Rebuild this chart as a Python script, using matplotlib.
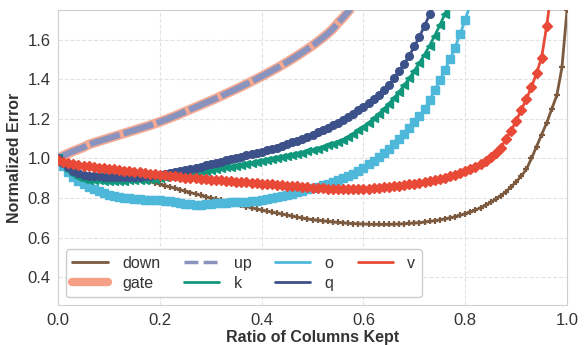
import matplotlib
matplotlib.use("Agg")
import matplotlib.pyplot as plt
from matplotlib.lines import Line2D
import numpy as np
import seaborn as sns

# ratio of columns kept, 0.00 .. 1.00 in steps of 0.01
ratio = np.round(np.arange(101) / 100, 2)

down = [1.000, 0.990, 0.980, 0.972, 0.965, 0.958, 0.952, 0.946, 0.940, 0.935,
        0.930, 0.925, 0.920, 0.914, 0.908, 0.902, 0.896, 0.890, 0.884, 0.877,
        0.870, 0.863, 0.856, 0.849, 0.842, 0.835, 0.828, 0.821, 0.814, 0.807,
        0.800, 0.794, 0.788, 0.781, 0.775, 0.769, 0.763, 0.757, 0.751, 0.745,
        0.739, 0.734, 0.729, 0.724, 0.719, 0.714, 0.709, 0.704, 0.699, 0.695,
        0.691, 0.688, 0.685, 0.682, 0.679, 0.677, 0.675, 0.673, 0.671, 0.670,
        0.669, 0.668, 0.667, 0.667, 0.667, 0.667, 0.668, 0.669, 0.670, 0.672,
        0.674, 0.676, 0.679, 0.682, 0.686, 0.690, 0.695, 0.700, 0.706, 0.713,
        0.721, 0.730, 0.740, 0.751, 0.764, 0.779, 0.795, 0.813, 0.833, 0.856,
        0.882, 0.911, 0.945, 1.000, 1.060, 1.120, 1.180, 1.250, 1.320, 1.460,
        1.750]

gate = [1.000, 1.014, 1.026, 1.037, 1.047, 1.057, 1.070, 1.079, 1.087, 1.095,
        1.103, 1.111, 1.119, 1.127, 1.135, 1.143, 1.151, 1.159, 1.167, 1.176,
        1.185, 1.195, 1.205, 1.215, 1.226, 1.237, 1.248, 1.259, 1.270, 1.281,
        1.292, 1.303, 1.315, 1.327, 1.339, 1.351, 1.363, 1.376, 1.389, 1.402,
        1.415, 1.429, 1.443, 1.457, 1.472, 1.487, 1.503, 1.519, 1.536, 1.553,
        1.571, 1.590, 1.610, 1.631, 1.655, 1.685, 1.712, 1.742, 1.775, 1.810,
        1.850]
up = gate

k = [1.000, 0.965, 0.940, 0.920, 0.906, 0.898, 0.893, 0.890, 0.889, 0.888,
     0.888, 0.888, 0.888, 0.888, 0.889, 0.890, 0.891, 0.893, 0.895, 0.898,
     0.901, 0.905, 0.909, 0.914, 0.919, 0.923, 0.927, 0.931, 0.935, 0.939,
     0.943, 0.947, 0.951, 0.955, 0.959, 0.963, 0.967, 0.971, 0.976, 0.981,
     0.986, 0.991, 0.996, 1.001, 1.006, 1.011, 1.017, 1.023, 1.029, 1.036,
     1.043, 1.050, 1.058, 1.066, 1.075, 1.085, 1.095, 1.106, 1.125, 1.142,
     1.160, 1.180, 1.202, 1.225, 1.250, 1.277, 1.306, 1.337, 1.370, 1.405,
     1.443, 1.483, 1.525, 1.570, 1.620, 1.673, 1.730, 1.790, 1.860]

o = [1.000, 0.960, 0.930, 0.905, 0.885, 0.870, 0.858, 0.847, 0.836, 0.826,
     0.818, 0.811, 0.806, 0.802, 0.798, 0.795, 0.793, 0.791, 0.790, 0.789,
     0.788, 0.786, 0.783, 0.779, 0.775, 0.771, 0.768, 0.766, 0.766, 0.768,
     0.771, 0.774, 0.776, 0.777, 0.778, 0.779, 0.780, 0.782, 0.784, 0.787,
     0.790, 0.794, 0.799, 0.805, 0.811, 0.817, 0.823, 0.830, 0.837, 0.844,
     0.851, 0.858, 0.865, 0.872, 0.880, 0.889, 0.899, 0.910, 0.923, 0.938,
     0.954, 0.971, 0.989, 1.008, 1.028, 1.050, 1.074, 1.099, 1.125, 1.153,
     1.183, 1.215, 1.250, 1.295, 1.345, 1.395, 1.447, 1.502, 1.560, 1.630,
     1.700, 1.780, 1.860]

q = [1.000, 0.975, 0.955, 0.938, 0.926, 0.918, 0.913, 0.911, 0.909, 0.908,
     0.907, 0.906, 0.906, 0.906, 0.906, 0.907, 0.908, 0.910, 0.912, 0.915,
     0.918, 0.922, 0.927, 0.932, 0.938, 0.943, 0.948, 0.953, 0.959, 0.965,
     0.971, 0.977, 0.984, 0.991, 0.998, 1.004, 1.010, 1.016, 1.022, 1.028,
     1.034, 1.041, 1.048, 1.055, 1.062, 1.072, 1.081, 1.090, 1.100, 1.110,
     1.121, 1.132, 1.144, 1.156, 1.168, 1.181, 1.195, 1.210, 1.226, 1.243,
     1.261, 1.280, 1.300, 1.322, 1.346, 1.372, 1.405, 1.440, 1.478, 1.520,
     1.566, 1.616, 1.670, 1.728, 1.790, 1.860]

v = [0.990, 0.982, 0.976, 0.971, 0.967, 0.963, 0.960, 0.957, 0.954, 0.951,
     0.948, 0.945, 0.942, 0.939, 0.936, 0.933, 0.930, 0.927, 0.924, 0.921,
     0.918, 0.915, 0.912, 0.909, 0.906, 0.903, 0.901, 0.899, 0.897, 0.895,
     0.893, 0.891, 0.889, 0.887, 0.885, 0.883, 0.881, 0.879, 0.877, 0.875,
     0.873, 0.871, 0.869, 0.867, 0.865, 0.863, 0.861, 0.859, 0.857, 0.855,
     0.853, 0.851, 0.849, 0.847, 0.846, 0.845, 0.845, 0.845, 0.845, 0.846,
     0.847, 0.848, 0.850, 0.852, 0.854, 0.856, 0.859, 0.862, 0.865, 0.869,
     0.873, 0.877, 0.881, 0.886, 0.891, 0.896, 0.902, 0.909, 0.917, 0.926,
     0.936, 0.947, 0.959, 0.973, 0.989, 1.007, 1.028, 1.052, 1.100, 1.140,
     1.190, 1.245, 1.300, 1.360, 1.430, 1.510, 1.670, 1.860]

colors = {
    "down": "#7b5a3f",
    "gate": "#f4a086",
    "up": "#8a93bd",
    "k": "#11987c",
    "o": "#4db8d9",
    "q": "#3c5189",
    "v": "#e84a37",
}

sns.set_style("whitegrid", {"grid.linestyle": "--", "grid.color": "#e3e3e3",
                            "axes.edgecolor": "#d0d0d0"})
plt.rcParams["font.family"] = ["Liberation Sans", "DejaVu Sans"]

fig = plt.figure(figsize=(5.87, 3.45), dpi=100)
ax = fig.add_axes([0.099, 0.116, 0.867, 0.855])

def part(vals):
    return ratio[:len(vals)], vals

ax.plot(*part(gate), color=colors["gate"], lw=7, alpha=0.9, solid_capstyle="round", zorder=2)
ax.plot(*part(up), color=colors["up"], lw=4.5, ls=(0, (5, 0.6)), zorder=3)
ax.plot(*part(down), color=colors["down"], lw=2, marker="+", ms=5, mew=1.6, zorder=4)
ax.plot(*part(o), color=colors["o"], lw=2, marker="s", ms=5.5, zorder=4)
ax.plot(*part(k), color=colors["k"], lw=2, marker="<", ms=5.5, zorder=5)
ax.plot(*part(q), color=colors["q"], lw=2, marker="o", ms=5.5, zorder=6)
ax.plot(*part(v), color=colors["v"], lw=2, marker="D", ms=5.5, zorder=7)

ax.set_xlim(0, 1.0)
ax.set_ylim(0.26, 1.75)
ax.set_yticks([0.4, 0.6, 0.8, 1.0, 1.2, 1.4, 1.6])
ax.set_xticks([0.0, 0.2, 0.4, 0.6, 0.8, 1.0])
ax.tick_params(labelsize=12, colors="#333333", pad=2)
ax.set_xlabel("Ratio of Columns Kept", fontsize=11.5, fontweight="bold", color="#333333", labelpad=2)
ax.set_ylabel("Normalized Error", fontsize=11.5, fontweight="bold", color="#333333", labelpad=4)

handles = [
    Line2D([], [], color=colors["down"], lw=2, label="down"),
    Line2D([], [], color=colors["gate"], lw=6, solid_capstyle="round", label="gate"),
    Line2D([], [], color=colors["up"], lw=2.5, ls=(0, (4, 1.5)), label="up"),
    Line2D([], [], color=colors["k"], lw=2, label="k"),
    Line2D([], [], color=colors["o"], lw=2, label="o"),
    Line2D([], [], color=colors["q"], lw=2, label="q"),
    Line2D([], [], color=colors["v"], lw=2, label="v"),
]
leg = ax.legend(handles=handles, ncol=4, loc="lower left", fontsize=11.5,
                handlelength=2.2, columnspacing=1.5, handletextpad=0.9,
                frameon=True, fancybox=True, borderaxespad=0.5, labelspacing=0.3)
leg.get_frame().set_edgecolor("#cccccc")
leg.get_frame().set_alpha(1.0)
for t in leg.get_texts():
    t.set_color("#333333")

fig.savefig("out.png", dpi=100)
